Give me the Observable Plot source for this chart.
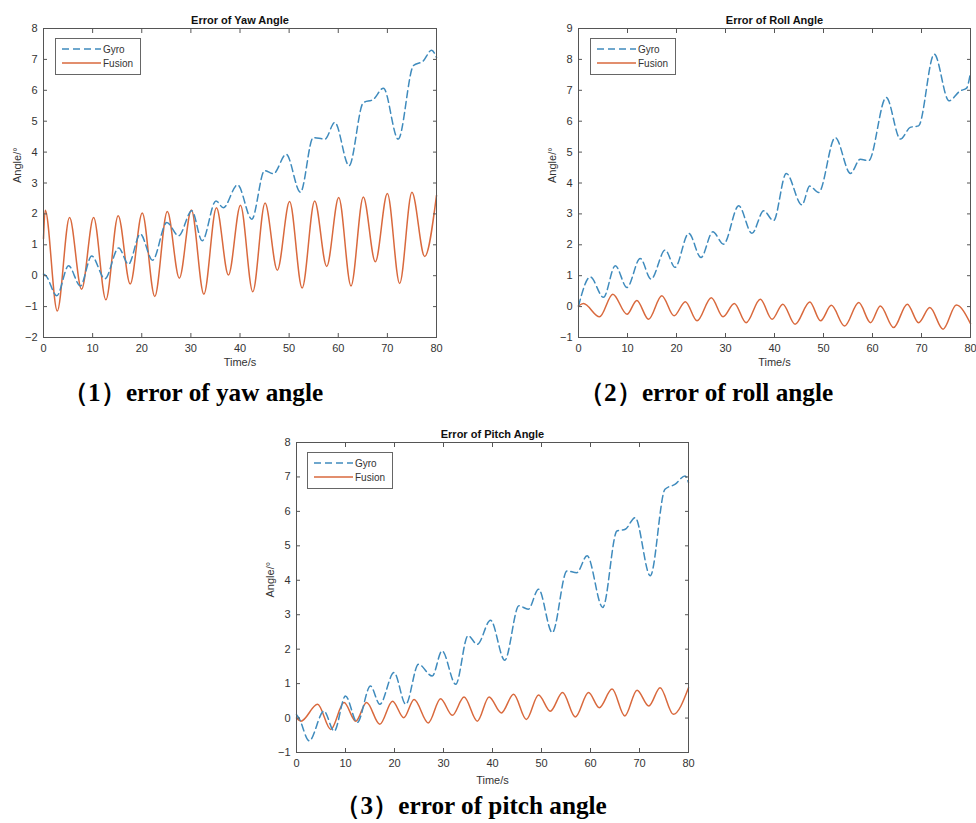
<!DOCTYPE html>
<html>
<head>
<meta charset="utf-8">
<script src="https://cdn.jsdelivr.net/npm/d3@7"></script>
<script src="https://cdn.jsdelivr.net/npm/@observablehq/plot@0.6"></script>
<style>
  html, body { margin: 0; padding: 0; background: #fff; }
  body { width: 976px; height: 823px; position: relative; overflow: hidden; font-family: "Liberation Sans", Arial, sans-serif; }
  .panel { position: absolute; }
  .caption { position: absolute; font-family: "Liberation Serif", "Times New Roman", serif; font-weight: bold; font-size: 26px; color: #000; white-space: nowrap; transform: translate(-50%, -50%) scaleX(0.97); line-height: 1; }
  .legend { position: absolute; }
</style>
</head>
<body>
<script>
// ---- data (time in s, angle error in degrees) ----
const seriesNames = ["Gyro", "Fusion"];
const xTicks = [0, 10, 20, 30, 40, 50, 60, 70, 80];
const yawTicks = [-2, -1, 0, 1, 2, 3, 4, 5, 6, 7, 8];
const rollTicks = [-1, 0, 1, 2, 3, 4, 5, 6, 7, 8, 9];
const pitchTicks = [-1, 0, 1, 2, 3, 4, 5, 6, 7, 8];
const titles = ["Error of Yaw Angle", "Error of Roll Angle", "Error of Pitch Angle"];
const captions = ["（1）error of yaw angle", "（2）error of roll angle", "（3）error of pitch angle"];

const yawGyro = [[0,0.05],[0.5,0],[2.7,-0.65],[5.1,0.32],[7.5,-0.33],[9.8,0.64],[12.5,-0.1],[15.3,0.9],[17.3,0.37],[19.7,1.35],[22.2,0.5],[25.1,1.72],[27.5,1.29],[30.2,2.1],[32.3,1.13],[35.1,2.42],[36.6,2.2],[39.5,2.94],[42.4,1.83],[45,3.4],[46.8,3.3],[49.4,3.93],[52.3,2.7],[54.9,4.47],[57.3,4.42],[59.3,4.96],[62.2,3.56],[65.1,5.6],[67.1,5.7],[69.2,6.07],[72.2,4.42],[75.3,6.8],[77.3,6.95],[79,7.3],[80,7.06]];
const yawFusion = [[0,1.2],[0.35,2.12],[2.8,-1.14],[5.3,1.88],[7.75,-0.44],[10.2,1.88],[12.7,-0.78],[15.2,1.94],[17.65,-0.27],[20.1,2.03],[22.65,-0.67],[25.2,2.08],[27.65,-0.08],[30.1,2.13],[32.65,-0.6],[35.2,2.2],[37.65,0.02],[40.1,2.28],[42.6,-0.52],[45.1,2.35],[47.6,0.18],[50.1,2.4],[52.65,-0.4],[55.2,2.42],[57.65,0.3],[60.1,2.53],[62.6,-0.33],[65.1,2.55],[67.55,0.45],[70,2.66],[72.5,-0.25],[75,2.7],[77.6,0.62],[80,2.6]];

const rollGyro = [[0,0.02],[2.4,0.96],[5.1,0.3],[7.5,1.32],[9.9,0.62],[12.6,1.56],[14.8,0.89],[17.7,1.83],[19.7,1.27],[22.5,2.37],[25,1.59],[27.4,2.42],[29.6,2.02],[32.7,3.26],[35.4,2.37],[37.8,3.1],[39.8,2.78],[42.4,4.31],[45.6,3.29],[47.2,3.9],[49,3.69],[52.4,5.47],[55.5,4.31],[57.5,4.77],[59.2,4.72],[62.8,6.77],[65.7,5.42],[67.7,5.8],[69.4,5.85],[72.6,8.17],[75.6,6.66],[77.9,6.98],[79.2,7.07],[80,7.58]];
const rollFusion = [[0,0.02],[1,0.1],[4.3,-0.33],[7,0.4],[9.9,-0.25],[11.9,0.2],[14.3,-0.41],[17,0.35],[19.5,-0.3],[21.8,0.16],[24.2,-0.46],[27.1,0.29],[29.5,-0.33],[31.8,0.1],[34.2,-0.52],[37.1,0.24],[39.5,-0.41],[41.7,0.08],[44.2,-0.57],[47.2,0.15],[49.4,-0.46],[51.6,0.04],[54.3,-0.63],[57.2,0.13],[59.6,-0.52],[61.6,0.02],[64.3,-0.68],[67.1,0.08],[69.4,-0.52],[71.7,-0.03],[74.4,-0.73],[77.1,0.05],[80,-0.55]];

const pitchGyro = [[0,0.1],[0.5,0],[2.6,-0.66],[5.6,0.2],[7.7,-0.38],[10,0.64],[12.4,-0.13],[15.1,0.93],[17,0.4],[19.9,1.32],[22.3,0.4],[24.9,1.56],[27.7,1.22],[29.7,1.95],[32.5,0.98],[35,2.39],[36.9,2.14],[39.6,2.84],[42.5,1.68],[45.4,3.26],[47.3,3.16],[49.4,3.74],[52.2,2.48],[55.2,4.27],[57.2,4.22],[59.3,4.71],[62.5,3.21],[65.4,5.43],[67.1,5.48],[69.1,5.82],[72.2,4.13],[75.2,6.64],[77.3,6.79],[79.3,7.03],[80,6.84]];
const pitchFusion = [[0,0],[0.9,-0.09],[4.3,0.4],[7,-0.33],[9.7,0.45],[12.1,-0.09],[14.3,0.45],[17,-0.18],[19.6,0.49],[21.9,0.01],[24,0.54],[26.9,-0.14],[29.4,0.56],[31.8,0.08],[34.2,0.61],[36.9,-0.09],[39.3,0.61],[41.8,0.15],[44.3,0.69],[46.9,-0.04],[49.4,0.67],[51.8,0.2],[54.3,0.74],[56.9,0.03],[59.6,0.74],[61.8,0.3],[64.4,0.84],[67,0.06],[69.5,0.81],[71.9,0.35],[74.2,0.88],[76.9,0.11],[80,0.88]];

// ---- styling ----
const gyroColor = "#3f8bbd";
const fusionColor = "#d9693d";
const axisColor = "#555";
const textColor = "#333";

function panel(cfg) {
  const div = document.createElement("div");
  div.className = "panel";
  div.style.left = cfg.left + "px";
  div.style.top = cfg.top + "px";
  const tickOpts = {tickSize: -4, tickFormat: () => "", label: null, stroke: axisColor};
  const plot = Plot.plot({
    width: cfg.width, height: cfg.height,
    marginLeft: cfg.mL, marginRight: cfg.mR, marginTop: cfg.mT, marginBottom: cfg.mB,
    style: {fontFamily: "'Liberation Sans', Arial, sans-serif", fontSize: "11px", color: textColor, background: "white", overflow: "visible"},
    x: {domain: [0, 80]},
    y: {domain: [cfg.yTicks[0], cfg.yTicks[cfg.yTicks.length - 1]]},
    marks: [
      Plot.line(cfg.fusion, {x: d => d[0], y: d => d[1], stroke: fusionColor, strokeWidth: 1.5, curve: "monotone-x"}),
      Plot.line(cfg.gyro, {x: d => d[0], y: d => d[1], stroke: gyroColor, strokeWidth: 1.5, strokeDasharray: "7,4", curve: "monotone-x"}),
      Plot.frame({stroke: axisColor}),
      Plot.axisX({anchor: "bottom", ticks: xTicks, tickSize: 0, tickPadding: 7, label: null, fill: textColor}),
      Plot.axisX({anchor: "bottom", ticks: xTicks, ...tickOpts}),
      Plot.axisX({anchor: "top", ticks: xTicks, ...tickOpts}),
      Plot.axisY({anchor: "left", ticks: cfg.yTicks, tickSize: 0, tickPadding: 6, label: null, fill: textColor}),
      Plot.axisY({anchor: "left", ticks: cfg.yTicks, ...tickOpts}),
      Plot.axisY({anchor: "right", ticks: cfg.yTicks, ...tickOpts}),
      Plot.text([cfg.title], {text: d => d, frameAnchor: "top", dy: -12, fontWeight: "bold", fontSize: 11, fill: "#111"}),
      Plot.text(["Time/s"], {text: d => d, frameAnchor: "bottom", dy: cfg.xLabelDy, fontSize: 11, fill: textColor}),
      Plot.text(["Angle/°"], {text: d => d, frameAnchor: "left", dx: -26, rotate: -90, fontSize: 11, fill: textColor})
    ]
  });
  div.appendChild(plot);
  document.body.appendChild(div);

  // legend box inside the axes
  const svg = d3.select(document.body).append("svg")
    .attr("class", "legend").attr("width", 86).attr("height", 37)
    .style("left", cfg.legend[0] + "px").style("top", cfg.legend[1] + "px");
  svg.append("rect").attr("x", 0.5).attr("y", 0.5).attr("width", 85).attr("height", 36)
    .attr("fill", "#fff").attr("stroke", "#666");
  const styles = [{c: gyroColor, dash: "7,4"}, {c: fusionColor, dash: null}];
  seriesNames.forEach((name, i) => {
    const y = 11 + 14 * i;
    svg.append("line").attr("x1", 7).attr("x2", 46).attr("y1", y).attr("y2", y)
      .attr("stroke", styles[i].c).attr("stroke-width", 1.5).attr("stroke-dasharray", styles[i].dash);
    svg.append("text").attr("x", 48).attr("y", y).attr("dy", "0.35em")
      .attr("font-size", 10).attr("font-family", "'Liberation Sans', Arial, sans-serif").attr("fill", textColor).text(name);
  });

  const cap = document.createElement("div");
  cap.className = "caption";
  cap.style.left = cfg.cap[0] + "px";
  cap.style.top = cfg.cap[1] + "px";
  cap.textContent = cfg.caption;
  document.body.appendChild(cap);
}

panel({left: 0, top: 0, width: 445, height: 372, mL: 43, mR: 9, mT: 28, mB: 35, xLabelDy: 28,
  yTicks: yawTicks, gyro: yawGyro, fusion: yawFusion, title: titles[0], legend: [55, 38], caption: captions[0], cap: [193, 393]});
panel({left: 530, top: 0, width: 446, height: 372, mL: 48, mR: 6, mT: 28, mB: 35, xLabelDy: 28,
  yTicks: rollTicks, gyro: rollGyro, fusion: rollFusion, title: titles[1], legend: [590, 38], caption: captions[1], cap: [706, 393]});
panel({left: 255, top: 420, width: 445, height: 372, mL: 41, mR: 12, mT: 22, mB: 40, xLabelDy: 31,
  yTicks: pitchTicks, gyro: pitchGyro, fusion: pitchFusion, title: titles[2], legend: [307, 452], caption: captions[2], cap: [471, 806]});
</script>
</body>
</html>
